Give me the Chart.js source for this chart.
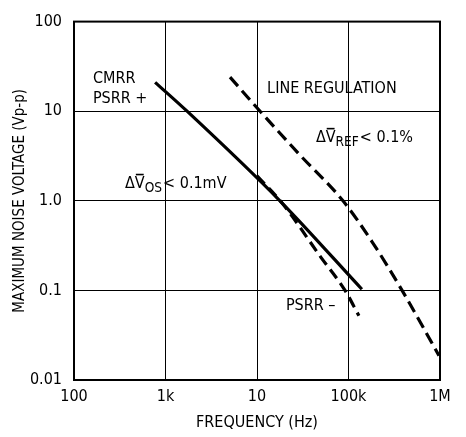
<!DOCTYPE html>
<html>
<head>
<meta charset="utf-8">
<script src="https://cdn.jsdelivr.net/npm/chart.js@4.4.1/dist/chart.umd.min.js"></script>
<style>
  html, body { margin: 0; padding: 0; background: #fff; }
  #wrap { width: 466px; height: 437px; }
</style>
</head>
<body>
<div id="wrap"><canvas id="noiseChart"></canvas></div>
<script>
// axis ticks
const xTicks = [100, 1000, 10000, 100000, 1000000];
const xTickLabels = ["100", "1k", "10", "100k", "1M"];
const yTicks = [0.01, 0.1, 1, 10, 100];
const yTickLabels = ["0.01", "0.1", "1.0", "10", "100"];

// CMRR / PSRR+ (solid)
const cmrrFreq = [770, 1720, 17800, 140000];
const cmrrVolt = [21, 10, 1.0, 0.103];

// PSRR- (dashed)
const psrrMinusFreq = [10000, 18700, 50000, 91600, 130000];
const psrrMinusVolt = [1.9, 0.95, 0.234, 0.1, 0.052];

// line regulation (dashed)
const lineRegFreq = [5070, 10800, 29500, 87000, 181000, 385000, 975000];
const lineRegVolt = [24, 10, 3.24, 1.0, 0.349, 0.1, 0.0187];

// text notes inside the plot (anchored at data coords, left / baseline)
const noteFreq = [161, 161, 12900, 44000, 361, 20700];
const noteVolt = [20.7, 12.5, 16.1, 4.49, 1.38, 0.0607];
const noteRuns = [
  [{ t: "CMRR" }],
  [{ t: "PSRR +" }],
  [{ t: "LINE REGULATION" }],
  [{ t: "Δ" }, { t: "V", bar: true }, { t: "REF", sub: true }, { t: "< 0.1%" }],
  [{ t: "Δ" }, { t: "V", bar: true }, { t: "OS", sub: true }, { t: "< 0.1mV" }],
  [{ t: "PSRR –" }],
];

const FONT = '"Liberation Sans Narrow", "Arial Narrow", "DejaVu Sans Condensed", sans-serif';
const FONT_SIZE = 16;

const toPoints = (xs, ys) => xs.map((x, i) => ({ x: x, y: ys[i] }));

// frame round the plot + notes
const decorPlugin = {
  id: "decor",
  afterDatasetsDraw(chart) {
    const { ctx, chartArea, scales } = chart;
    ctx.save();
    ctx.strokeStyle = "#000";
    ctx.lineWidth = 2;
    ctx.strokeRect(chartArea.left, chartArea.top,
      chartArea.right - chartArea.left, chartArea.bottom - chartArea.top);

    ctx.fillStyle = "#000";
    ctx.textBaseline = "alphabetic";
    ctx.textAlign = "left";
    noteRuns.forEach((runs, i) => {
      let cx = scales.x.getPixelForValue(noteFreq[i]);
      const y = scales.y.getPixelForValue(noteVolt[i]);
      runs.forEach((r) => {
        const sz = r.sub ? FONT_SIZE * 0.85 : FONT_SIZE;
        ctx.font = sz + "px " + FONT;
        const dy = r.sub ? 4 : 0;
        ctx.fillText(r.t, cx, y + dy);
        const w = ctx.measureText(r.t).width;
        if (r.bar) {
          ctx.fillRect(cx + 1, y - FONT_SIZE * 0.72 - 3, w - 2, 1.6);
        }
        cx += w + (r.sub ? 1 : 0);
      });
    });
    ctx.restore();
  },
};

const ctx = document.getElementById("noiseChart").getContext("2d");

new Chart(ctx, {
  type: "line",
  data: {
    datasets: [
      {
        label: "CMRR / PSRR+",
        data: toPoints(cmrrFreq, cmrrVolt),
        borderColor: "#000",
        borderWidth: 3.2,
        pointRadius: 0,
        cubicInterpolationMode: "monotone",
        fill: false,
      },
      {
        label: "PSRR-",
        data: toPoints(psrrMinusFreq, psrrMinusVolt),
        borderColor: "#000",
        borderWidth: 3.2,
        borderDash: [11, 6],
        pointRadius: 0,
        cubicInterpolationMode: "monotone",
        fill: false,
      },
      {
        label: "Line regulation",
        data: toPoints(lineRegFreq, lineRegVolt),
        borderColor: "#000",
        borderWidth: 3.2,
        borderDash: [12, 6],
        pointRadius: 0,
        cubicInterpolationMode: "monotone",
        fill: false,
      },
    ],
  },
  options: {
    responsive: true,
    maintainAspectRatio: false,
    animation: false,
    layout: { padding: { top: 12, right: 26, left: 0, bottom: 0 } },
    plugins: {
      legend: { display: false },
      tooltip: { enabled: false },
    },
    scales: {
      x: {
        type: "logarithmic",
        min: 100,
        max: 1000000,
        afterBuildTicks: (scale) => {
          scale.ticks = xTicks.map((v) => ({ value: v }));
        },
        afterFit: (scale) => {
          scale.height = 57;
        },
        ticks: {
          color: "#000",
          font: { family: FONT, size: FONT_SIZE },
          padding: 7,
          maxRotation: 0,
          autoSkip: false,
          callback: (value) => xTickLabels[xTicks.indexOf(value)],
        },
        grid: { color: "#000", lineWidth: 1, drawTicks: false },
        border: { display: false },
        title: {
          display: true,
          text: "FREQUENCY (Hz)",
          color: "#000",
          font: { family: FONT, size: FONT_SIZE },
          padding: { top: 0, bottom: 5 },
        },
      },
      y: {
        type: "logarithmic",
        min: 0.01,
        max: 100,
        afterBuildTicks: (scale) => {
          scale.ticks = yTicks.map((v) => ({ value: v }));
        },
        afterFit: (scale) => {
          scale.width = 74;
        },
        ticks: {
          color: "#000",
          font: { family: FONT, size: FONT_SIZE },
          padding: 12,
          autoSkip: false,
          callback: (value) => yTickLabels[yTicks.indexOf(value)],
        },
        grid: { color: "#000", lineWidth: 1, drawTicks: false },
        border: { display: false },
        title: {
          display: true,
          text: "MAXIMUM NOISE VOLTAGE (Vp-p)",
          color: "#000",
          font: { family: FONT, size: 15 },
          padding: { top: 11, bottom: 0 },
        },
      },
    },
  },
  plugins: [decorPlugin],
});
</script>
</body>
</html>
